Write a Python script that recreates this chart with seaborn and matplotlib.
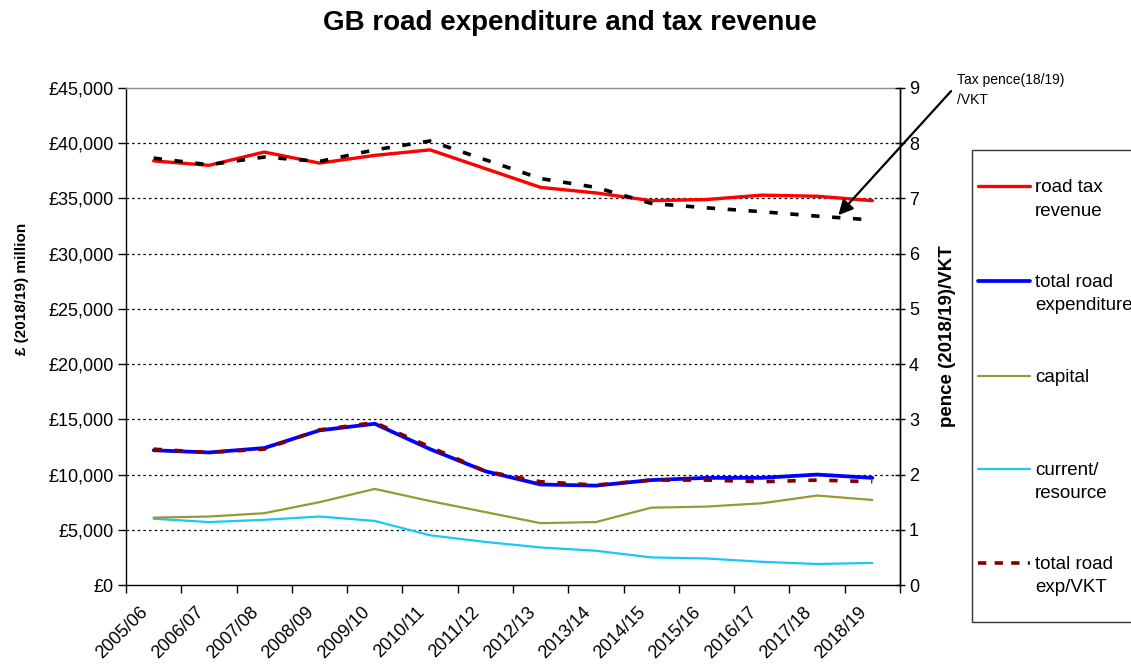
import numpy as np
import pandas as pd
import matplotlib
matplotlib.use('Agg')
import matplotlib.pyplot as plt
import matplotlib.transforms as mtrans
from matplotlib.lines import Line2D
from matplotlib.patches import Rectangle
from matplotlib.ticker import FuncFormatter
import seaborn as sns

years = ['2005/06', '2006/07', '2007/08', '2008/09', '2009/10', '2010/11', '2011/12',
         '2012/13', '2013/14', '2014/15', '2015/16', '2016/17', '2017/18', '2018/19']

# £ (2018/19) million
road_tax_revenue = [38400, 38000, 39200, 38200, 38900, 39400, 37700, 36000, 35500, 34800, 34900, 35300, 35200, 34800]
total_road_exp = [12200, 12000, 12400, 14000, 14600, 12300, 10300, 9100, 9000, 9500, 9700, 9700, 10000, 9700]
capital = [6100, 6200, 6500, 7500, 8700, 7600, 6600, 5600, 5700, 7000, 7100, 7400, 8100, 7700]
current_resource = [6000, 5700, 5900, 6200, 5800, 4500, 3900, 3400, 3100, 2500, 2400, 2100, 1900, 2000]

# pence (2018/19) per VKT
tax_pence_vkt = [7.73, 7.61, 7.75, 7.67, 7.88, 8.04, 7.70, 7.36, 7.20, 6.91, 6.83, 6.76, 6.68, 6.61]
exp_pence_vkt = [2.46, 2.40, 2.46, 2.81, 2.94, 2.50, 2.06, 1.87, 1.81, 1.90, 1.90, 1.87, 1.90, 1.87]

df = pd.DataFrame({
    'year': years,
    'pos': np.arange(len(years)),
    'road_tax_revenue': road_tax_revenue,
    'total_road_exp': total_road_exp,
    'capital': capital,
    'current_resource': current_resource,
    'tax_pence_vkt': tax_pence_vkt,
    'exp_pence_vkt': exp_pence_vkt,
})

sns.set_style('white')
plt.rcParams['font.family'] = ['Liberation Sans', 'DejaVu Sans']
plt.rcParams['text.color'] = 'black'
plt.rcParams['axes.labelcolor'] = 'black'
plt.rcParams['xtick.color'] = 'black'
plt.rcParams['ytick.color'] = 'black'

W, H = 1131, 664
fig = plt.figure(figsize=(W / 100, H / 100), dpi=100)
ax = fig.add_axes([126 / W, 1 - 585 / H, (900 - 126) / W, (585 - 88) / H])
ax2 = ax.twinx()

RED = '#ff0000'
BLUE = '#0000ff'
OLIVE = '#999933'
CYAN = '#19c8f5'
DARKRED = '#800000'

sns.lineplot(data=df, x='pos', y='current_resource', ax=ax, color=CYAN, linewidth=1.6)
sns.lineplot(data=df, x='pos', y='capital', ax=ax, color=OLIVE, linewidth=1.6)
sns.lineplot(data=df, x='pos', y='total_road_exp', ax=ax, color=BLUE, linewidth=2.7)
sns.lineplot(data=df, x='pos', y='road_tax_revenue', ax=ax, color=RED, linewidth=2.4)

sns.lineplot(data=df, x='pos', y='exp_pence_vkt', ax=ax2, color=DARKRED, linewidth=2.6,
             linestyle=(0, (2.3, 3.5)))
sns.lineplot(data=df, x='pos', y='tax_pence_vkt', ax=ax2, color='black', linewidth=2.6,
             linestyle=(0, (2.3, 3.5)))

ax.set_xlim(-0.5, len(years) - 0.5)
ax.set_ylim(0, 45000)
ax2.set_ylim(0, 9)

ax.set_yticks(np.arange(0, 45001, 5000))
ax.yaxis.set_major_formatter(FuncFormatter(lambda v, p: '£{:,.0f}'.format(v)))
ax2.set_yticks(np.arange(0, 10, 1))

# ticks at category boundaries, labels at category centres
ax.set_xticks(np.arange(-0.5, len(years), 1))
ax.set_xticklabels([])
label_tr = ax.get_xaxis_transform() + mtrans.ScaledTranslation(-8 / 100, -25 / 100, fig.dpi_scale_trans)
for i, yr in enumerate(years):
    ax.text(i, 0, yr, transform=label_tr, rotation=45, ha='right', va='center',
            rotation_mode='anchor', fontsize=13)

ax.tick_params(axis='x', which='major', bottom=True, length=6, width=1, color='black', direction='out')
ax.tick_params(axis='y', left=True, length=6, width=1, color='black', direction='out', labelsize=13, pad=3)
ax2.tick_params(axis='y', right=True, length=7, width=1, color='black', direction='inout', labelsize=13, pad=3)

ax.set_xlabel('')
ax.set_ylabel('')
ax2.set_ylabel('')

ax.yaxis.grid(True, color='black', linestyle=(0, (2, 2.5)), linewidth=0.9)
gl = ax.get_ygridlines()
gl[0].set_visible(False)
gl[-1].set_visible(False)

for name, sp in ax.spines.items():
    sp.set_color('black')
    sp.set_linewidth(1)
ax.spines['top'].set_color('#8c8c8c')
for name in ['top', 'left', 'bottom']:
    ax2.spines[name].set_visible(False)
ax2.spines['right'].set_color('black')
ax2.spines['right'].set_linewidth(1)

# titles and axis labels
fig.text(570 / W, 1 - 23 / H, 'GB road expenditure and tax revenue', ha='center', va='center',
         fontsize=20, fontweight='bold')
fig.text(22 / W, 1 - 289 / H, '£ (2018/19) million', rotation=90, ha='center', va='center',
         fontsize=11, fontweight='bold')
fig.text(947 / W, 1 - 336 / H, 'pence (2018/19)/VKT', rotation=90, ha='center', va='center',
         fontsize=13.5, fontweight='bold')

# annotation
fig.text(957 / W, 1 - 73 / H, 'Tax pence(18/19)\n/VKT', ha='left', va='top', fontsize=10,
         linespacing=1.5)
ax2.annotate('', xy=(12.35, 6.66), xycoords='data',
             xytext=(953 / W, 1 - 89 / H), textcoords='figure fraction',
             arrowprops=dict(arrowstyle='-|>', color='black', lw=1.6, mutation_scale=22),
             annotation_clip=False)

# legend box
fig.add_artist(Rectangle((972 / W, 1 - 622 / H), 180 / W, 472 / H, transform=fig.transFigure,
                         facecolor='white', edgecolor='#333333', linewidth=1))
legend_items = [
    ('road tax\nrevenue', RED, 2.4, '-', 186),
    ('total road\nexpenditure', BLUE, 2.7, '-', 281),
    ('capital', OLIVE, 1.6, '-', 376),
    ('current/\nresource', CYAN, 1.6, '-', 469),
    ('total road\nexp/VKT', DARKRED, 2.6, (0, (2.3, 2.3)), 563),
]
for label, col, lw, ls, py in legend_items:
    fig.add_artist(Line2D([978 / W, 1030 / W], [1 - py / H, 1 - py / H], transform=fig.transFigure,
                          color=col, linewidth=lw, linestyle=ls))
    fig.text(1035 / W, 1 - (py - 7) / H, label, ha='left', va='top', fontsize=13.5, linespacing=1.5)

fig.savefig('out.png', dpi=100, facecolor='white')
